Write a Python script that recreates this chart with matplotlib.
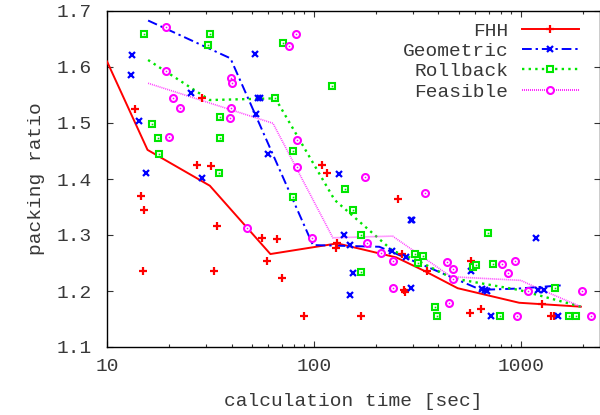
import matplotlib
matplotlib.use("Agg")
import matplotlib.pyplot as plt
from matplotlib.lines import Line2D
from matplotlib.ticker import LogLocator, NullFormatter, FixedLocator, FuncFormatter

plt.rcParams['font.family'] = ['Liberation Mono', 'DejaVu Sans Mono']

# ---------------- data ----------------
series_names = ["FHH", "Geometric", "Rollback", "Feasible"]

fhh_time = [13.6, 14.6, 15.1, 14.9, 27.3, 28.7, 31.8, 34.0, 32.9, 56.4, 59.6, 66.3,
            69.8, 89.5, 109.8, 115.5, 129.7, 127.3, 168, 254, 267, 271, 275, 351,
            574, 570, 642, 1259, 1406, 1444]
fhh_ratio = [1.525, 1.370, 1.344, 1.236, 1.425, 1.545, 1.423, 1.316, 1.236, 1.294, 1.254, 1.292,
             1.223, 1.155, 1.425, 1.410, 1.285, 1.277, 1.155, 1.364, 1.266, 1.202, 1.198, 1.235,
             1.254, 1.160, 1.168, 1.177, 1.155, 1.155]
fhh_line_time = [10, 15.7, 31.4, 61.6, 129.7, 250, 348, 495, 982, 1950]
fhh_line_ratio = [1.610, 1.452, 1.388, 1.266, 1.285, 1.260, 1.2345, 1.205, 1.179, 1.172]

geo_time = [13.2, 13.0, 14.2, 15.5, 25.6, 28.9, 51.9, 53.5, 55.0, 52.3, 60.0, 131.5,
            139, 148.7, 153.7, 148.7, 239, 279, 294, 298, 295, 574, 650, 670, 690,
            717, 1183, 1204, 1296, 1520]
geo_ratio = [1.621, 1.586, 1.504, 1.410, 1.553, 1.401, 1.623, 1.545, 1.544, 1.516, 1.444, 1.409,
             1.300, 1.282, 1.232, 1.192, 1.271, 1.261, 1.327, 1.327, 1.205, 1.236, 1.203, 1.201, 1.200,
             1.155, 1.294, 1.202, 1.202, 1.155]
geo_line_time = [15.8, 39.5, 98.9, 207, 324, 642, 982, 1561]
geo_line_ratio = [1.683, 1.6155, 1.282, 1.279, 1.249, 1.202, 1.2045, 1.210]

rb_time = [15.1, 16.5, 17.6, 17.8, 31.3, 30.8, 35.1, 35.3, 34.6, 71.2, 65.1, 122.7,
           79.2, 141, 79.2, 153.7, 168, 169, 307, 338, 320, 385, 395, 696, 589, 607,
           736, 795, 1461, 1712, 1844]
rb_ratio = [1.659, 1.499, 1.474, 1.445, 1.659, 1.639, 1.511, 1.474, 1.410, 1.642, 1.544, 1.566,
            1.4505, 1.382, 1.368, 1.345, 1.300, 1.234, 1.266, 1.262, 1.250, 1.172, 1.155, 1.303,
            1.242, 1.246, 1.249, 1.155, 1.205, 1.155, 1.155]
rb_line_time = [15.8, 31.4, 65.1, 126, 240, 312, 468, 982, 1950]
rb_line_ratio = [1.6125, 1.541, 1.544, 1.3625, 1.272, 1.2554, 1.2227, 1.2018, 1.172]

fe_time = [19.3, 19.3, 20.9, 22.5, 19.9, 39.6, 40.0, 39.6, 39.4, 82.2, 75.5, 82.5,
           83.2, 176, 47.4, 98.2, 344, 180, 211, 242, 240, 438, 468, 468, 451, 811,
           863, 940, 957, 1081, 1972, 2193]
fe_ratio = [1.671, 1.593, 1.544, 1.527, 1.475, 1.581, 1.571, 1.526, 1.5095, 1.6595, 1.6375, 1.469,
            1.421, 1.403, 1.313, 1.294, 1.3755, 1.285, 1.268, 1.254, 1.205, 1.252, 1.239, 1.221,
            1.178, 1.248, 1.232, 1.254, 1.155, 1.2006, 1.2006, 1.155]
fe_line_time = [15.8, 63.4, 123.5, 240, 460, 1000, 1174, 1950]
fe_line_ratio = [1.571, 1.4995, 1.295, 1.298, 1.2255, 1.219, 1.207, 1.172]

y_ticks = [1.1, 1.2, 1.3, 1.4, 1.5, 1.6, 1.7]
x_ticks = [10, 100, 1000]

# ---------------- style ----------------
RED = '#ff0000'
BLUE = '#0000ff'
GREEN = '#00e600'
MAG = '#ff00ff'
TXT = '#383838'

fig = plt.figure(figsize=(6.0, 4.15), dpi=100)
ax = fig.add_axes([107 / 600, 1 - 347 / 415, (599.5 - 107) / 600, (347 - 11) / 415])
ax.set_xscale('log')
ax.set_xlim(10, 2400)
ax.set_ylim(1.1, 1.7)

geo_dash = (0, (5, 2, 1.2, 2))
rb_dash = (0, (1, 1.8))
fe_dash = (0, (0.6, 0.6))

# lines
ax.plot(fhh_line_time, fhh_line_ratio, color=RED, lw=1.4, ls='-', zorder=3)
ax.plot(geo_line_time, geo_line_ratio, color=BLUE, lw=1.4, ls=geo_dash, zorder=3)
ax.plot(rb_line_time, rb_line_ratio, color=GREEN, lw=1.7, ls=rb_dash, zorder=3)
ax.plot(fe_line_time, fe_line_ratio, color=MAG, lw=1.2, ls=fe_dash, alpha=0.75, zorder=3)

# points
ms = 5
ax.plot(fhh_time, fhh_ratio, ls='none', marker='+', ms=ms + 0.5, mew=1.6, color=RED, zorder=4)
ax.plot(geo_time, geo_ratio, ls='none', marker='x', ms=ms, mew=1.6, color=BLUE, zorder=4)
ax.plot(rb_time, rb_ratio, ls='none', marker='s', ms=ms, mew=1.5, mfc='white', mec=GREEN, zorder=4)
ax.plot(rb_time, rb_ratio, ls='none', marker='s', ms=1.2, mew=0, color=GREEN, zorder=5)
ax.plot(fe_time, fe_ratio, ls='none', marker='o', ms=ms, mew=1.5, mfc='white', mec=MAG, zorder=4)
ax.plot(fe_time, fe_ratio, ls='none', marker='o', ms=1.2, mew=0, color=MAG, zorder=5)

# axes styling
for s in ax.spines.values():
    s.set_linewidth(1.0)
    s.set_color('black')

ax.yaxis.set_major_locator(FixedLocator(y_ticks))
ax.yaxis.set_major_formatter(FuncFormatter(lambda v, p: f"{v:.1f}"))
ax.xaxis.set_major_locator(FixedLocator(x_ticks))
ax.xaxis.set_major_formatter(FuncFormatter(lambda v, p: f"{int(round(v))}"))
ax.xaxis.set_minor_locator(LogLocator(base=10, subs=range(2, 10)))
ax.xaxis.set_minor_formatter(NullFormatter())
ax.yaxis.set_minor_locator(FixedLocator([]))

ax.tick_params(which='both', direction='in', top=True, right=True, color='#333333',
               labelsize=14, labelcolor=TXT)
ax.tick_params(which='major', length=4.5, width=0.8)
ax.tick_params(which='minor', length=2.5, width=0.8)
ax.tick_params(axis='y', pad=11)
ax.tick_params(axis='x', pad=8)

ax.set_xlabel('calculation time [sec]', fontsize=14, color=TXT, labelpad=13)
ax.set_ylabel('packing ratio', fontsize=14, color=TXT, labelpad=8)

handles = [
    Line2D([], [], color=RED, lw=1.4, ls='-', marker='+', ms=ms + 0.5, mew=1.6),
    Line2D([], [], color=BLUE, lw=1.4, ls=geo_dash, marker='x', ms=ms, mew=1.6),
    Line2D([], [], color=GREEN, lw=1.7, ls=rb_dash, marker='s', ms=ms, mew=1.5, mfc='white', mec=GREEN),
    Line2D([], [], color=MAG, lw=1.2, ls=fe_dash, marker='o', ms=ms, mew=1.5, mfc='white', mec=MAG),
]
leg = ax.legend(handles, series_names, loc='upper right', bbox_to_anchor=(1 - 21 / 492.5, 1 - 11 / 336),
                frameon=False, markerfirst=False, fontsize=14, handlelength=2.9,
                handletextpad=0.7, labelspacing=0.14, borderaxespad=0, borderpad=0)
for t in leg.get_texts():
    t.set_color(TXT)

fig.savefig('out.png', dpi=100)
